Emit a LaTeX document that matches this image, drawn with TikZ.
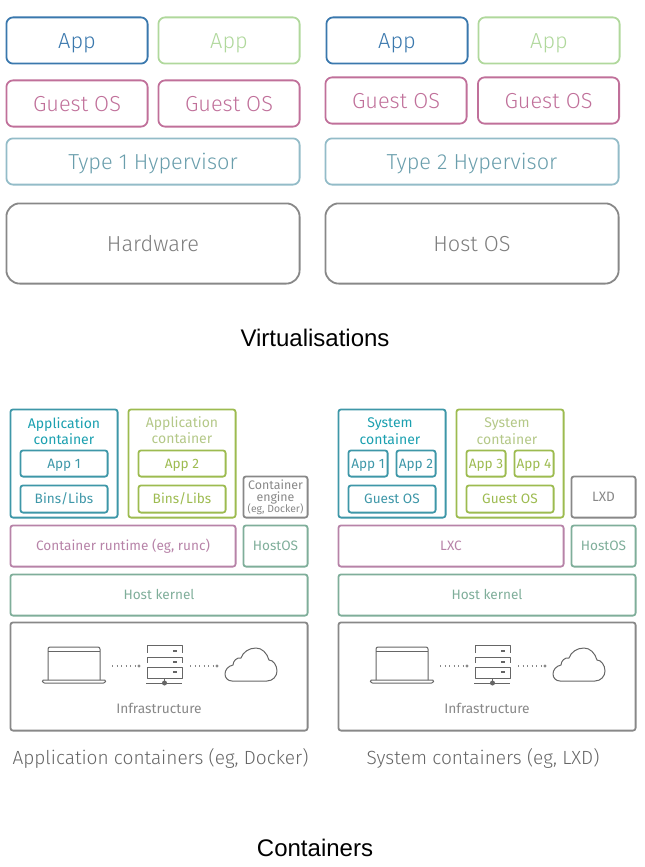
\documentclass[tikz,border=0pt]{standalone}
\usepackage{fontspec}
\setmainfont{Liberation Sans}
\newfontfamily\boxfont{Fira Sans Light}
\newfontfamily\smallfont{Fira Sans}
\usepackage{xcolor}
\definecolor{appblue}{HTML}{3A78AD}
\definecolor{appgreen}{HTML}{B0D89C}
\definecolor{guestpink}{HTML}{C0709A}
\definecolor{hyperblue}{HTML}{93BCC8}
\definecolor{hypertext}{HTML}{6A9EAC}
\definecolor{hardgrey}{HTML}{888888}
\definecolor{tealbox}{HTML}{3E97A8}
\definecolor{tealhead}{HTML}{1BA0B0}
\definecolor{olivebox}{HTML}{9DBB50}
\definecolor{olivehead}{HTML}{B4C888}
\definecolor{plumbox}{HTML}{B783A8}
\definecolor{kernelbox}{HTML}{7FAE9A}
\definecolor{inkgrey}{HTML}{666666}
\tikzset{
    sized/.style 2 args = {minimum width=#1*0.75pt-0.6pt, minimum height=#2*0.75pt-0.6pt},
    vm-box/.style = {draw=#1, line width=1.35pt, rectangle, rounded corners=5pt, inner sep=0pt, align=center, text height=11.4pt, text depth=0pt, font=\boxfont\fontsize{16.3}{18}\selectfont},
    ct-box/.style = {draw=#1, line width=1.35pt, rectangle, rounded corners=2pt, inner sep=0pt, align=center, font=\smallfont\fontsize{10.2}{12.5}\selectfont},
    ct-line/.style = {ct-box=#1, text height=7.2pt, text depth=0pt},
    ct-head/.style = {align=center, inner sep=0pt, font=\smallfont\fontsize{10.5}{12.5}\selectfont},
    infra-text/.style = {text=hardgrey, font=\smallfont\fontsize{10.3}{12}\selectfont},
    title/.style = {font=\fontsize{18}{20}\selectfont, text=black},
    caption-text/.style = {font=\boxfont\fontsize{14.3}{16}\selectfont, text=inkgrey},
    icon/.style = {draw=inkgrey, line width=0.75pt, line join=round},
    dots/.style = {hardgrey, line width=1pt, dash pattern=on 1pt off 2.4pt},
    infra/.pic = {
        \draw[icon, rounded corners=1.5pt] (48,680) -- (48,647) -- (100,647) -- (100,680);
        \draw[icon] (48,651) -- (100,651);
        \draw[icon, rounded corners=1pt] (42,680) -- (106,680) -- (105,683) -- (43,683) -- cycle;
        \draw[icon] (147,653) -- (147,645) -- (182,645) -- (182,653);
        \draw[icon] (147,663) -- (147,657) -- (182,657) -- (182,663);
        \draw[icon] (147,667) rectangle (182,678);
        \foreach \y in {651,662,672} {
            \draw[icon, line width=1pt] (173,\y) -- (177,\y);
        }
        \draw[icon] (146,683) -- (182,683);
        \draw[icon] (164.5,678) -- (164.5,683);
        \fill[inkgrey] (164.5,683) circle (2.5);
        \coordinate (-a) at (112,666);
        \coordinate (-b) at (139,666);
        \coordinate (-c) at (190,666);
        \coordinate (-d) at (217,666);
        \draw[dots] (-a) -- (-b);
        \draw[dots] (-c) -- (-d);
        \fill[hardgrey] (-b) circle (1.7);
        \fill[hardgrey] (-d) circle (1.7);
        \draw[icon] (232,681) -- (267,681)
            .. controls (273,681) and (277,676) .. (277,671)
            .. controls (277,665) and (273,660) .. (269,660)
            .. controls (267,653) and (262,648) .. (256,648)
            .. controls (249,648) and (243,652) .. (241,658)
            .. controls (237,657) and (233,661) .. (233,665)
            .. controls (228,666) and (225,670) .. (225,674)
            .. controls (225,678) and (228,681) .. (232,681) -- cycle;
    },
}
\begin{document}
\begin{tikzpicture}[x=0.75pt, y=-0.75pt]
\useasboundingbox (0,0) rectangle (644,867);

\node[vm-box=appblue, sized={142}{47}, text=appblue] (appa) at (77,40.5) {App};
\node[vm-box=appgreen, sized={142}{47}, text=appgreen] (appb) at (229,40.5) {App};
\node[vm-box=guestpink, sized={142}{47}, text=guestpink] (guesta) at (77,103.5) {Guest OS};
\node[vm-box=guestpink, sized={142}{47}, text=guestpink] (guestb) at (229,103.5) {Guest OS};
\node[vm-box=hyperblue, sized={294}{47}, text=hypertext] (hypera) at (153,161.5) {Type 1 Hypervisor};
\node[vm-box=hardgrey, sized={294}{81}, rounded corners=10pt, text=inkgrey!85] (hardware) at (153,243.5) {Hardware};

\node[vm-box=appblue, sized={142}{47}, text=appblue] (appc) at (397,40.5) {App};
\node[vm-box=appgreen, sized={142}{47}, text=appgreen] (appd) at (549,40.5) {App};
\node[vm-box=guestpink, sized={142}{47}, text=guestpink] (guestc) at (396,100.5) {Guest OS};
\node[vm-box=guestpink, sized={142}{47}, text=guestpink] (guestd) at (548.5,100.5) {Guest OS};
\node[vm-box=hyperblue, sized={294}{47}, text=hypertext] (hyperb) at (472,161.5) {Type 2 Hypervisor};
\node[vm-box=hardgrey, sized={294}{81}, rounded corners=10pt, text=inkgrey!85] (hostos) at (472,243.5) {Host OS};

\node[title] (virt) at (315,338) {Virtualisations};

\node[ct-box=tealbox, sized={108}{109}] (acta) at (64,463.5) {};
\node[ct-head, text=tealhead] (acta-head) at (64,431) {Application\\container};
\node[ct-line=tealbox, sized={88}{27}, text=tealbox] (app1) at (64,463.5) {App 1};
\node[ct-line=tealbox, sized={88}{28}, text=tealbox] (binsa) at (64,499) {Bins/Libs};
\node[ct-box=olivebox, sized={108}{109}] (actb) at (182,463.5) {};
\node[ct-head, text=olivehead] (actb-head) at (182,430) {Application\\container};
\node[ct-line=olivebox, sized={88}{27}, text=olivebox] (app2) at (182,463.5) {App 2};
\node[ct-line=olivebox, sized={88}{28}, text=olivebox] (binsb) at (182,499) {Bins/Libs};
\node[ct-box=hardgrey, sized={65}{42}, text=hardgrey, font=\smallfont\fontsize{9.3}{9}\selectfont] (engine) at (275.5,497) {Container\\engine\\[-1pt]{\fontsize{7.8}{8}\selectfont(eg, Docker)}};
\node[ct-line=plumbox, sized={226}{42}, text=plumbox] (runtime) at (123,546) {Container runtime (eg, runc)};
\node[ct-line=kernelbox, sized={65}{42}, text=kernelbox] (hosta) at (275.5,546) {HostOS};
\node[ct-line=kernelbox, sized={298}{42}, text=kernelbox] (kernela) at (159,595) {Host kernel};
\node[ct-box=hardgrey, sized={298}{109}] (infraa) at (159,676.5) {};
\node[infra-text] (infraa-text) at (159,708) {Infrastructure};
\pic (iconsa) at (0,0) {infra};
\node[caption-text] (capa) at (160.5,758) {Application containers (eg, Docker)};

\node[ct-box=tealbox, sized={108}{109}] (scta) at (392,463.5) {};
\node[ct-head, text=tealhead] (scta-head) at (390,431) {System\\container};
\node[ct-line=tealbox, sized={40}{27}, text=tealbox] (sapp1) at (368,463.5) {App 1};
\node[ct-line=tealbox, sized={40}{27}, text=tealbox] (sapp2) at (416,463.5) {App 2};
\node[ct-line=tealbox, sized={88}{28}, text=tealbox] (sguesta) at (392,499) {Guest OS};
\node[ct-box=olivebox, sized={108}{109}] (sctb) at (510,463.5) {};
\node[ct-head, text=olivehead] (sctb-head) at (507,431) {System\\container};
\node[ct-line=olivebox, sized={40}{27}, text=olivebox] (sapp3) at (486,463.5) {App 3};
\node[ct-line=olivebox, sized={40}{27}, text=olivebox] (sapp4) at (534,463.5) {App 4};
\node[ct-line=olivebox, sized={88}{28}, text=olivebox] (sguestb) at (510,499) {Guest OS};
\node[ct-line=hardgrey, sized={65}{42}, text=hardgrey] (lxd) at (603.5,497) {LXD};
\node[ct-line=plumbox, sized={226}{42}, text=plumbox] (lxc) at (451,546) {LXC};
\node[ct-line=kernelbox, sized={65}{42}, text=kernelbox] (hostb) at (603.5,546) {HostOS};
\node[ct-line=kernelbox, sized={298}{42}, text=kernelbox] (kernelb) at (487,595) {Host kernel};
\node[ct-box=hardgrey, sized={298}{109}] (infrab) at (487,676.5) {};
\node[infra-text] (infrab-text) at (487,708) {Infrastructure};
\pic (iconsb) at (328,0) {infra};
\node[caption-text] (capb) at (483,758) {System containers (eg, LXD)};

\node[title] (cont) at (315,848) {Containers};
\end{tikzpicture}
\end{document}
